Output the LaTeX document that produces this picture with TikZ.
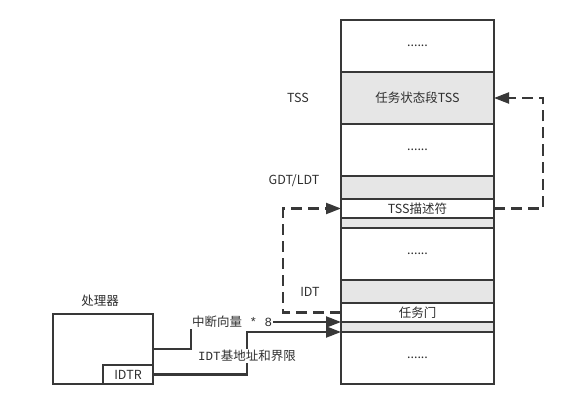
\documentclass[tikz,border=0pt]{standalone}
\usepackage{fontspec}
\setmainfont{Noto Sans CJK SC}
\setmonofont{Liberation Mono}
\usetikzlibrary{positioning,arrows.meta}
\definecolor{linec}{HTML}{383838}
\definecolor{fillc}{HTML}{E6E6E6}
\definecolor{textc}{HTML}{2E2E2E}

\begin{document}
\begin{tikzpicture}[x=1pt, y=-1pt,
font=\fontsize{12.5}{14}\selectfont,
cell/.style={draw=linec, line width=1.7pt, minimum width=153pt, inner sep=0pt, outer sep=0pt, text=textc},
blank/.style={cell, fill=white},
shade/.style={cell, fill=fillc},
tag/.style={text=textc, inner sep=1pt},
wire/.style={draw=linec, line width=2.2pt},
tip/.style={-{Triangle[length=15pt,width=11pt]}},
link/.style={wire, dash pattern=on 11pt off 6pt}
]
\useasboundingbox (0,0) rectangle (563,404);
% memory column
\node[blank, minimum height=52pt] (top) at (417.5,46) {......};
\node[shade, minimum height=52pt, below=0pt of top] (tss) {任务状态段TSS};
\node[blank, minimum height=52pt, below=0pt of tss] (gap1) {......};
\node[shade, minimum height=23pt, below=0pt of gap1] (gdt) {};
\node[blank, minimum height=19pt, below=0pt of gdt] (desc) {TSS描述符};
\node[shade, minimum height=10pt, below=0pt of desc] (pad1) {};
\node[blank, minimum height=52pt, below=0pt of pad1] (gap2) {......};
\node[shade, minimum height=23pt, below=0pt of gap2] (idt) {};
\node[blank, minimum height=19pt, below=0pt of idt] (gate) {任务门};
\node[shade, minimum height=10pt, below=0pt of gate] (pad2) {};
\node[blank, minimum height=52pt, below=0pt of pad2] (bot) {......};
\node[tag] (tsslbl) at (298,98) {TSS};
\node[tag] (gdtlbl) at (294,181) {GDT/LDT};
\node[tag] (idtlbl) at (310,292) {IDT};
% processor
\node[cell, fill=white, minimum width=100pt, minimum height=70pt] (cpu) at (103,349) {};
\node[cell, fill=white, minimum width=50pt, minimum height=19pt, anchor=south east] (idtr) at (cpu.south east) {IDTR};
\node[tag] (cpulbl) at (100,301) {处理器};
\node[tag, anchor=west] (vec) at (191,322) {中断向量\texttt{ * 8}};
\node[tag] (base) at (247,356) {\texttt{IDT}基地址和界限};
\coordinate (rt) at (543,0);
\coordinate (lt) at (283,0);
% connectors
\draw[wire] (cpu.east) -| (vec.south west);
\draw[wire, tip] (vec.east) -- (pad2.north west);
\draw[wire] (idtr.east) -| (base.south);
\draw[wire, tip] (base.north) |- (bot.north west);
\draw[link, tip] (desc.east) -- (desc.east -| rt) |- (tss.east);
\draw[link, tip] (gate.west) -- (gate.west -| lt) |- (desc.west);
\end{tikzpicture}
\end{document}
